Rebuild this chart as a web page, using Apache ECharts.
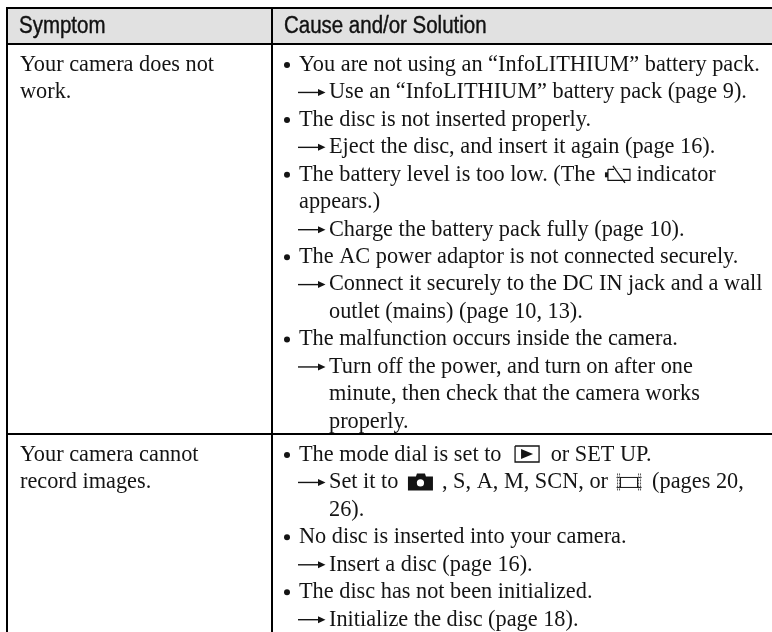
<!DOCTYPE html>
<html>
<head>
<meta charset="utf-8">
<title>Symptom table</title>
<script src="https://cdn.jsdelivr.net/npm/echarts@6/dist/echarts.min.js"></script>
<style>
  html, body { margin: 0; padding: 0; background: #fff; }
  #chart { width: 772px; height: 632px; }
</style>
</head>
<body>
<div id="chart"></div>
<script>
// table text, prefix: "* " bullet, "> " arrow, "+ " under bullet, "  " under arrow; {name} = inline icon
const headers = ['Symptom', 'Cause and/or Solution'];
const symptomRow1 = ['Your camera does not', 'work.'];
const symptomRow2 = ['Your camera cannot', 'record images.'];
const causeRow1 = [
  '* You are not using an “InfoLITHIUM” battery pack.',
  '> Use an “InfoLITHIUM” battery pack (page 9).',
  '* The disc is not inserted properly.',
  '> Eject the disc, and insert it again (page 16).',
  '* The battery level is too low. (The {battery} indicator',
  '+ appears.)',
  '> Charge the battery pack fully (page 10).',
  '* The AC power adaptor is not connected securely.',
  '> Connect it securely to the DC IN jack and a wall',
  '  outlet (mains) (page 10, 13).',
  '* The malfunction occurs inside the camera.',
  '> Turn off the power, and turn on after one',
  '  minute, then check that the camera works',
  '  properly.'
];
const causeRow2 = [
  '* The mode dial is set to {play} or SET UP.',
  '> Set it to {camera}, S, A, M, SCN, or {film} (pages 20,',
  '  26).',
  '* No disc is inserted into your camera.',
  '> Insert a disc (page 16).',
  '* The disc has not been initialized.',
  '> Initialize the disc (page 18).'
];

const W = 772, H = 632;
const LINE_H = 27.45, ROW1_Y = 65, ROW2_Y = 455;
const COL_L = 7, COL_M = 272, TOP = 8, HEAD_B = 44, ROW_B = 434;
const SERIF = '22.3px "Liberation Serif"';
const INK = '#141414';

const iconSize = { battery: 26, play: 25, camera: 26, film: 26 };
const iconGap = { battery: [4, 0], play: [8, 5], camera: [4, 8], film: [3, 4] };

const measure = document.createElement('canvas').getContext('2d');
measure.font = SERIF;

// x, y relative to left edge / text centre of the icon
function iconShapes(name, api, x, y) {
  const p = (dx, dy) => api.coord([x + dx, y + dy]);
  const poly = (pts, style) => ({ type: 'polyline', shape: { points: pts.map(q => p(q[0], q[1])) }, style: Object.assign({ fill: null, stroke: INK, lineWidth: 1.2 }, style) });
  const fill = (pts) => ({ type: 'polygon', shape: { points: pts.map(q => p(q[0], q[1])) }, style: { fill: INK } });
  if (name === 'battery') {
    return [
      poly([[3, -5.5], [25, -5.5], [25, 5.5], [3, 5.5], [3, -5.5]]),
      fill([[0, -2.5], [3, -2.5], [3, 2.5], [0, 2.5]]),
      { type: 'rect', shape: { x: p(9, 0)[0], y: p(0, -6.5)[1], width: 9, height: 2.5 }, style: { fill: '#fff' } },
      poly([[8, -9], [20, 8]], { lineWidth: 1.3 })
    ];
  }
  if (name === 'play') {
    return [
      poly([[0, -9], [24, -9], [24, 7], [0, 7], [0, -9]], { lineWidth: 1.3 }),
      fill([[6, -6], [18, -1], [6, 4]])
    ];
  }
  if (name === 'camera') {
    const c = p(12.5, 0.5);
    return [
      fill([[0, -6], [8, -6], [9, -9], [17, -9], [18, -6], [25, -6], [25, 8], [0, 8]]),
      { type: 'circle', shape: { cx: c[0], cy: c[1], r: 3.6 }, style: { fill: '#fff' } }
    ];
  }
  // film strip
  const parts = [
    poly([[0, -5], [25, -5]], { lineWidth: 1 }),
    poly([[0, 5], [25, 5]], { lineWidth: 1 }),
    poly([[4, -5], [4, 5]], { lineWidth: 1 }),
    poly([[21, -5], [21, 5]], { lineWidth: 1 })
  ];
  [1, 3, 22, 24].forEach(dx => parts.push(poly([[dx, -9], [dx, 8]], { lineWidth: 1, stroke: '#555', lineDash: [2, 1] })));
  return parts;
}

function renderLine(params, api) {
  const x = api.value(0), y = api.value(1);
  const raw = lineItems[params.dataIndex].text;
  const kind = raw[0];
  let body = raw;
  let textX = x;
  const children = [];
  if (kind === '*' || kind === '>' || kind === '+' || raw.startsWith('  ')) {
    body = raw.slice(2);
    textX = kind === '*' || kind === '+' ? x + 12 : x + 42;
  }
  if (kind === '*') {
    const c = api.coord([x, y]);
    children.push({ type: 'circle', shape: { cx: c[0], cy: c[1], r: 3 }, style: { fill: INK } });
  }
  if (kind === '>') {
    children.push({ type: 'line', shape: { x1: api.coord([x + 11, y])[0], y1: api.coord([x, y])[1], x2: api.coord([x + 34, y])[0], y2: api.coord([x, y])[1] }, style: { stroke: INK, lineWidth: 1.4 } });
    children.push({ type: 'polygon', shape: { points: [[x + 31, y - 3.5], [x + 38.5, y], [x + 31, y + 3.5]].map(q => api.coord(q)) }, style: { fill: INK } });
  }
  // split on inline icons and flow the pieces
  let cursor = textX;
  body.split(/(\{\w+\})/).forEach(piece => {
    if (!piece) return;
    const icon = piece.match(/^\{(\w+)\}$/);
    if (icon) {
      const name = icon[1];
      cursor += iconGap[name][0];
      iconShapes(name, api, cursor, y).forEach(s => children.push(s));
      cursor += iconSize[name] + iconGap[name][1];
    } else {
      const c = api.coord([cursor, y]);
      children.push({ type: 'text', style: { x: c[0], y: c[1], text: piece, font: SERIF, fill: INK, verticalAlign: 'middle', align: 'left' } });
      cursor += measure.measureText(piece).width;
    }
  });
  return { type: 'group', children };
}

function renderFrame(params, api) {
  const p = (x, y) => api.coord([x, y]);
  const rule = (a, b, w) => ({ type: 'line', shape: { x1: a[0], y1: a[1], x2: b[0], y2: b[1] }, style: { stroke: '#000', lineWidth: w } });
  const head = (x, text) => {
    const c = p(x, 27);
    return { type: 'text', x: c[0], y: c[1], scaleX: 0.89, style: { x: 0, y: 0, text, font: '23px "Liberation Sans"', fill: '#111', stroke: '#111', lineWidth: 0.4, verticalAlign: 'middle' } };
  };
  return {
    type: 'group',
    children: [
      { type: 'rect', shape: { x: p(COL_L, 0)[0], y: p(0, TOP)[1], width: W - COL_L, height: HEAD_B - TOP }, style: { fill: '#e1e1e1' } },
      rule(p(COL_L - 1, TOP), p(W, TOP), 2),
      rule(p(COL_L, HEAD_B), p(W, HEAD_B), 2),
      rule(p(COL_L, ROW_B), p(W, ROW_B), 2),
      rule(p(COL_L, TOP), p(COL_L, H), 2),
      rule(p(COL_M, TOP), p(COL_M, H), 2),
      head(19, headers[0]),
      head(284, headers[1])
    ]
  };
}

// one entry per text line, slotted into its row by index
const lineItems = [];
function addLines(lines, x, startY) {
  lines.forEach((text, i) => lineItems.push({ value: [x, startY + i * LINE_H], text }));
}
addLines(symptomRow1, 20, ROW1_Y);
addLines(symptomRow2, 20, ROW2_Y);
addLines(causeRow1, 287, ROW1_Y);
addLines(causeRow2, 287, ROW2_Y);

const chart = echarts.init(document.getElementById('chart'), null, { renderer: 'canvas' });
chart.setOption({
  animation: false,
  backgroundColor: '#fff',
  grid: { left: 0, right: 0, top: 0, bottom: 0 },
  xAxis: { type: 'value', min: 0, max: W, show: false },
  yAxis: { type: 'value', min: 0, max: H, inverse: true, show: false },
  series: [
    { type: 'custom', silent: true, coordinateSystem: 'cartesian2d', renderItem: renderFrame, data: [[0, 0]], clip: false },
    { type: 'custom', silent: true, coordinateSystem: 'cartesian2d', renderItem: renderLine, data: lineItems, clip: false }
  ]
});
</script>
</body>
</html>
